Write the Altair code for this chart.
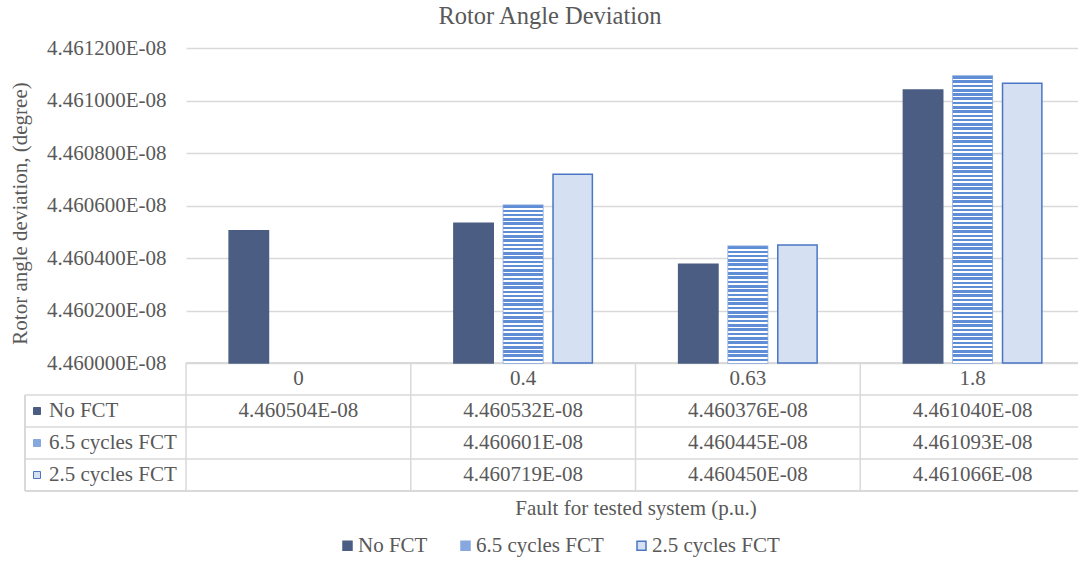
import altair as alt
import pandas as pd

# ---------------- data ----------------
categories = ["0", "0.4", "0.63", "1.8"]
series_names = ["No FCT", "6.5 cycles FCT", "2.5 cycles FCT"]
no_fct = [4.460504e-08, 4.460532e-08, 4.460376e-08, 4.461040e-08]
fct_6_5 = [None, 4.460601e-08, 4.460445e-08, 4.461093e-08]
fct_2_5 = [None, 4.460719e-08, 4.460450e-08, 4.461066e-08]
y_ticks = [4.4600e-08, 4.4602e-08, 4.4604e-08, 4.4606e-08,
           4.4608e-08, 4.4610e-08, 4.4612e-08]
table_rows = ["hdr"] + series_names

# ---------------- styles ----------------
FONT = "Liberation Serif"
TXT = "#595959"
GRID = "#d9d9d9"
series_fill = ["#4b5d82", "#86a8de", "#d5e0f3"]
series_stroke = ["#4b5d82", "#86a8de", "#4a76c4"]
PLOT_H = 315          # pixel height of the bar area
STRIPE_PERIOD = 4.3   # pixel period of the horizontal stripe pattern
STRIPE_BLUE = "#5f8dd6"


def fmt(v):
    return f"{v * 1e8:.6f}E-08"


def stripe_gradient(value):
    """Horizontal stripe pattern fitted to a bar's pixel height."""
    h = (value - y_ticks[0]) / (y_ticks[-1] - y_ticks[0]) * PLOT_H
    n = max(1, round(h / STRIPE_PERIOD))
    stops = []
    for i in range(n):
        a = i / n
        b = (i + 0.6) / n
        c = (i + 1) / n
        stops += [{"offset": a, "color": STRIPE_BLUE},
                  {"offset": b, "color": STRIPE_BLUE},
                  {"offset": b, "color": "#ffffff"},
                  {"offset": c, "color": "#ffffff"}]
    return {"gradient": "linear", "x1": 0, "y1": 0, "x2": 0, "y2": 1, "stops": stops}


bars = []
for s, vals in zip(series_names, [no_fct, fct_6_5, fct_2_5]):
    for c, v in zip(categories, vals):
        if v is not None:
            bars.append({"cat": c, "series": s, "value": v})
bars_df = pd.DataFrame(bars)

cells = [{"cat": c, "row": "hdr", "label": c} for c in categories]
for s, vals in zip(series_names, [no_fct, fct_6_5, fct_2_5]):
    for c, v in zip(categories, vals):
        cells.append({"cat": c, "row": s, "label": fmt(v) if v is not None else ""})
cells_df = pd.DataFrame(cells)

rowlab_df = pd.DataFrame({"row": series_names, "series": series_names})
cat_df = pd.DataFrame({"cat": categories})

# ---------------- scales ----------------
x_scale = alt.Scale(domain=categories, range=[0, 899], paddingInner=0, paddingOuter=0)
x_axis = alt.Axis(title="Fault for tested system (p.u.)", labels=False, ticks=False,
                  domain=False, grid=False, titleFont=FONT, titleFontSize=21,
                  titleFontWeight="normal", titleColor=TXT, titleY=17,
                  titleBaseline="middle")
X = alt.X("cat:N", scale=x_scale, axis=x_axis)
XOFF = alt.XOffset("series:N", scale=alt.Scale(domain=series_names,
                                               paddingInner=0.206,
                                               paddingOuter=0.87))
y_scale = alt.Scale(domain=[y_ticks[0], y_ticks[-1]], range=[PLOT_H, 0],
                    zero=False, nice=False)
row_scale = alt.Scale(domain=table_rows, range=[315, 443], paddingInner=0, paddingOuter=0)
fill_scale = alt.Scale(domain=series_names, range=series_fill)
stroke_scale = alt.Scale(domain=series_names, range=series_stroke)

legend = alt.Legend(title=None, orient="none", direction="horizontal",
                    legendX=151, legendY=487, symbolType="square", symbolSize=81,
                    labelFont=FONT, labelFontSize=21, labelColor=TXT,
                    columnPadding=27, labelOffset=0, padding=0)

bar_layer = alt.Chart(bars_df).mark_bar(strokeWidth=1.5).encode(
    x=X,
    xOffset=XOFF,
    y=alt.Y("value:Q", scale=y_scale,
            axis=alt.Axis(values=y_ticks,
                          labelExpr="format(datum.value * 1e8, '.6f') + 'E-08'",
                          title="Rotor angle deviation, (degree)",
                          grid=True, gridColor=GRID, gridWidth=1.5,
                          domain=False, ticks=False, labelPadding=20,
                          labelFont=FONT, labelFontSize=21, labelColor=TXT,
                          titleFont=FONT, titleFontSize=21, titleColor=TXT,
                          titleFontWeight="normal", titleX=-160, titleY=165,
                          titleBaseline="alphabetic")),
    y2=alt.datum(y_ticks[0]),
    fill=alt.Fill("series:N", scale=fill_scale, legend=legend),
    stroke=alt.Stroke("series:N", scale=stroke_scale, legend=None),
)

# striped overlay for the "6.5 cycles FCT" bars (one per category)
stripe_layers = []
for c, v in zip(categories, fct_6_5):
    if v is None:
        continue
    stripe_layers.append(
        alt.Chart(bars_df).transform_filter(
            (alt.datum.series == "6.5 cycles FCT") & (alt.datum.cat == c)
        ).mark_bar(strokeWidth=0).encode(
            x=X, xOffset=XOFF,
            y=alt.Y("value:Q", scale=y_scale, axis=None),
            y2=alt.datum(y_ticks[0]),
            fill=alt.value(stripe_gradient(v)),
        )
    )

hlines = alt.Chart(rowlab_df).mark_rule(color=GRID, strokeWidth=1.5).encode(
    y=alt.Y("row:N", scale=row_scale, axis=None, bandPosition=0),
    x=alt.value(-161), x2=alt.value(892),
)
hline_top = alt.Chart(cat_df).mark_rule(color=GRID, strokeWidth=1.5).encode(
    y=alt.value(315), x=alt.value(0), x2=alt.value(892),
)
hline_bottom = alt.Chart(cat_df).mark_rule(color=GRID, strokeWidth=1.5).encode(
    y=alt.value(443), x=alt.value(-161), x2=alt.value(892),
)
vlines = alt.Chart(cat_df).mark_rule(color=GRID, strokeWidth=1.5).encode(
    x=alt.X("cat:N", scale=x_scale, axis=x_axis, bandPosition=0),
    y=alt.value(315), y2=alt.value(443),
)
vline_left = alt.Chart(cat_df).mark_rule(color=GRID, strokeWidth=1.5).encode(
    x=alt.value(-161), y=alt.value(347), y2=alt.value(443),
)

cell_text = alt.Chart(cells_df).mark_text(font=FONT, fontSize=21, color=TXT,
                                          align="center", baseline="middle").encode(
    x=X,
    y=alt.Y("row:N", scale=row_scale, axis=None),
    text="label:N",
)
row_text = alt.Chart(rowlab_df).mark_text(font=FONT, fontSize=21, color=TXT,
                                          align="left", baseline="middle").encode(
    x=alt.value(-137),
    y=alt.Y("row:N", scale=row_scale, axis=None),
    text="row:N",
)
row_sym = alt.Chart(rowlab_df).mark_square(size=49, opacity=1, strokeWidth=1).encode(
    x=alt.value(-149),
    y=alt.Y("row:N", scale=row_scale, axis=None),
    fill=alt.Fill("series:N", scale=fill_scale, legend=legend),
    stroke=alt.Stroke("series:N", scale=stroke_scale, legend=None),
)

chart = alt.layer(
    hlines, hline_top, hline_bottom, vlines, vline_left,
    bar_layer, *stripe_layers, cell_text, row_text, row_sym,
).resolve_scale(y="independent").properties(
    width=892, height=443,
    padding={"left": 186, "top": 48, "right": 0, "bottom": 72},
    autosize=alt.AutoSizeParams(type="none"),
    title=alt.TitleParams(text="Rotor Angle Deviation", font=FONT, fontSize=24.5,
                          fontWeight="normal", color=TXT, anchor="middle",
                          frame="group", dx=-82, offset=8),
).configure_view(stroke=None)

chart.save("out.html", embed_options={"renderer": "svg", "actions": False})
